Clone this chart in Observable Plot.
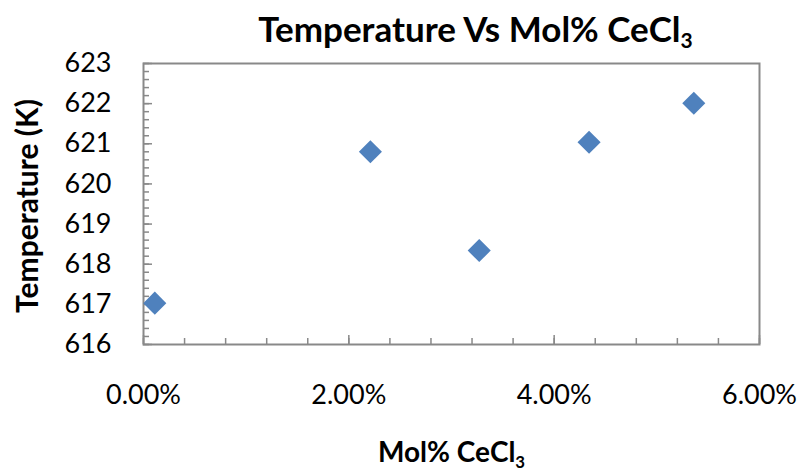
<!DOCTYPE html>
<html>
<head>
<meta charset="utf-8">
<script src="https://cdn.jsdelivr.net/npm/d3@7"></script>
<script src="https://cdn.jsdelivr.net/npm/@observablehq/plot@0.6"></script>
<style>
  body { margin: 0; background: #fff; }
  #chart svg { display: block; }
</style>
</head>
<body>
<div id="chart"></div>
<script>
// Mole fraction of CeCl3 in the melt and the measured temperature (K)
const molFraction = [0.0011, 0.0221, 0.0327, 0.0434, 0.0536];
const temperatureK = [617.03, 620.80, 618.34, 621.04, 622.01];

// Axis ticks
const xMajorTicks = [0, 0.02, 0.04, 0.06];
const xMinorTicks = [0, 0.004, 0.008, 0.012, 0.016, 0.02, 0.024, 0.028, 0.032,
                     0.036, 0.04, 0.044, 0.048, 0.052, 0.056, 0.06];
const yMajorTicks = [616, 617, 618, 619, 620, 621, 622, 623];
const yMinorTicks = d3.range(0, 36).map(i => 616 + i / 5);

const titleText = "Temperature Vs Mol% CeCl";
const xLabelText = "Mol% CeCl";
const yLabelText = "Temperature (K)";

const W = 804, H = 472;
const M = {top: 63, right: 45, bottom: 128, left: 143};
const innerW = W - M.left - M.right;
const innerH = H - M.top - M.bottom;
const axisGray = "#898989";
const fontFamily = "Lato, 'Open Sans', sans-serif";

const points = molFraction.map((x, i) => ({x, t: temperatureK[i]}));

const chart = Plot.plot({
  width: W,
  height: H,
  marginTop: M.top,
  marginRight: M.right,
  marginBottom: M.bottom,
  marginLeft: M.left,
  style: {fontFamily, background: "white", color: "black", overflow: "visible"},
  x: {domain: [0, 0.06]},
  y: {domain: [616, 623]},
  marks: [
    // inward tick marks along the bottom and left edges
    Plot.tickX(xMinorTicks, {x: d => d, stroke: axisGray, strokeWidth: 1.5, insetTop: innerH - 6}),
    Plot.tickX(xMajorTicks, {x: d => d, stroke: axisGray, strokeWidth: 1.5, insetTop: innerH - 9}),
    Plot.tickY(yMinorTicks, {y: d => d, stroke: axisGray, strokeWidth: 1.5, insetRight: innerW - 6}),
    Plot.tickY(yMajorTicks, {y: d => d, stroke: axisGray, strokeWidth: 1.5, insetRight: innerW - 9}),
    Plot.frame({stroke: axisGray, strokeWidth: 2}),
    Plot.axisX(xMajorTicks, {tickSize: 0, tickPadding: 40, tickFormat: d3.format(".2%"), fontSize: 27, label: null}),
    Plot.axisY(yMajorTicks, {tickSize: 0, tickPadding: 32, fontSize: 27, label: null}),
    Plot.dot(points, {x: "x", y: "t", symbol: "diamond2", r: 10.4, fill: "#4F81BD", stroke: null}),
    Plot.text([titleText], {text: d => d, frameAnchor: "top-left", textAnchor: "middle", lineAnchor: "middle",
      dx: 332, dy: -33, fontSize: 35, fontWeight: "bold"}),
    Plot.text([xLabelText], {text: d => d, frameAnchor: "bottom", textAnchor: "middle", lineAnchor: "middle",
      dx: 0, dy: 109, fontSize: 28, fontWeight: "bold"}),
    Plot.text([yLabelText], {text: d => d, frameAnchor: "left", textAnchor: "middle", lineAnchor: "middle",
      rotate: -90, dx: -115, dy: 2, fontSize: 30, fontWeight: "bold"})
  ]
});

// Subscript "3" in CeCl3
d3.select(chart).selectAll("text")
  .filter(function () { return this.textContent === titleText || this.textContent === xLabelText; })
  .append("tspan")
  .attr("font-size", "0.6em")
  .attr("dy", "0.3em")
  .text("3");

document.getElementById("chart").appendChild(chart);
</script>
</body>
</html>
